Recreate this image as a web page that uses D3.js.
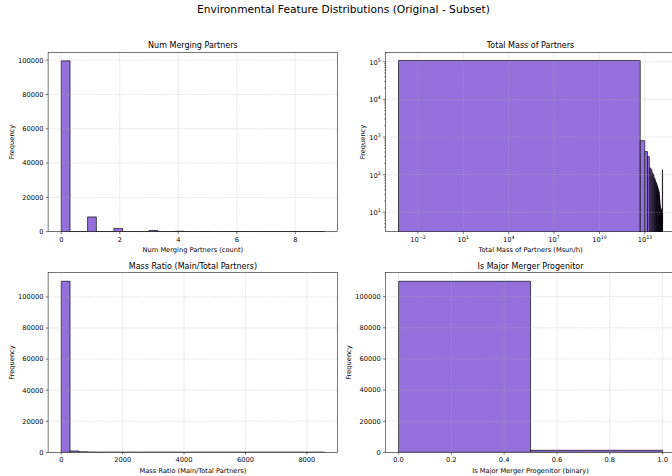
<!DOCTYPE html>
<html>
<head>
<meta charset="utf-8">
<script src="https://cdn.jsdelivr.net/npm/d3@7"></script>
<style>
  html, body { margin: 0; padding: 0; background: #fff; }
  svg { display: block; font-family: "DejaVu Sans", sans-serif; }
</style>
</head>
<body>
<svg id="fig" width="672" height="476"></svg>
<script>
// ---- Num Merging Partners: counts per integer value, binned into 30 bins ----
const partnerValues = [0, 1, 2, 3, 4, 5, 6, 7, 8, 9];
const partnerCounts = [99600, 8600, 1900, 750, 260, 90, 35, 14, 6, 3];
const partnerTicksX = [0, 2, 4, 6, 8];

// ---- Total Mass of Partners: 30 linear bins between min and max, log axes ----
const massRange = [5.2e-4, 1.48e14];
const massCounts = [107500, 800, 410, 300, 150, 135, 110, 100, 82, 74, 66, 60, 55, 50, 46, 42, 38, 34, 28, 22,
                    16, 14, 13, 12, 12, 11, 11, 10, 10, 135];
const massTickExps = [-2, 1, 4, 7, 10, 13];
const massFreqTickExps = [1, 2, 3, 4, 5];
const massFreqLimits = [3.05, 1.78e5];

// ---- Mass Ratio (Main/Total Partners): 30 linear bins ----
const ratioRange = [0, 8576];
const ratioCounts = [110100, 840, 300, 110, 45, 20, 10, 6, 4, 3, 2, 2, 1, 1, 1, 0, 1, 0, 0, 1,
                     0, 0, 0, 1, 0, 0, 0, 0, 0, 1];
const ratioTicksX = [0, 2000, 4000, 6000, 8000];

// ---- Is Major Merger Progenitor: 2 bins over [0, 1] ----
const majorRange = [0, 1];
const majorCounts = [109950, 1300];
const majorTicksX = [0, 0.2, 0.4, 0.6, 0.8, 1.0];

const freqTicks = [0, 20000, 40000, 60000, 80000, 100000];

// ---- styling ----
const BAR_FILL = "#9370DB";
const FONT_TICK = 6.67, FONT_TITLE = 8, FONT_SUPTITLE = 10.67;
const TICK_LEN = 2.33, TICK_PAD = 2.33, LABEL_PAD = 2.67;
const LW = 0.53;

const svg = d3.select("#fig");

svg.append("text")
  .attr("x", 343.4).attr("y", 13.3)
  .attr("text-anchor", "middle")
  .attr("font-size", FONT_SUPTITLE)
  .text("Environmental Feature Distributions (Original - Subset)");

// Build equal-width bins from a range and a list of counts
function linearBins(range, counts) {
  const n = counts.length, w = (range[1] - range[0]) / n;
  return counts.map((c, i) => ({ x0: range[0] + i * w, x1: range[0] + (i + 1) * w, count: c }));
}

function paddedLinear(lo, hi) {
  const m = 0.05 * (hi - lo);
  return [lo - m, hi + m];
}
function paddedLog(lo, hi) {
  const a = Math.log10(lo), b = Math.log10(hi), m = 0.05 * (b - a);
  return [Math.pow(10, a - m), Math.pow(10, b + m)];
}

function supLabel(sel, exp) {
  sel.append("tspan").text("10");
  sel.append("tspan").attr("font-size", 4.7).attr("dy", -3)
    .text(exp < 0 ? "\u2212" + Math.abs(exp) : String(exp));
}

let clipId = 0;
function drawPanel(cfg) {
  const { x0, x1, y0, y1 } = cfg.box;
  const g = svg.append("g");
  const x = (cfg.xLog ? d3.scaleLog() : d3.scaleLinear()).domain(cfg.xDomain).range([x0, x1]);
  const y = (cfg.yLog ? d3.scaleLog() : d3.scaleLinear()).domain(cfg.yDomain).range([y1, y0]);

  const id = "clip" + (clipId++);
  g.append("clipPath").attr("id", id)
    .append("rect").attr("x", x0).attr("y", y0).attr("width", x1 - x0).attr("height", y1 - y0);

  // bars (drawn as paths so zero-height bins still show their edge)
  g.append("g").attr("clip-path", `url(#${id})`)
    .selectAll("path").data(cfg.bins.filter(b => !cfg.yLog || b.count > 0)).join("path")
    .attr("d", b => {
      const xl = x(b.x0), xr = x(b.x1);
      const yb = cfg.yLog ? y1 + 3 : y(0), yt = y(b.count);
      return `M${xl},${yb}V${yt}H${xr}V${yb}Z`;
    })
    .attr("fill", BAR_FILL)
    .attr("stroke", "#000")
    .attr("stroke-width", 0.67);

  // dashed grid above the bars
  const grid = g.append("g")
    .attr("stroke", "#b0b0b0").attr("stroke-opacity", 0.6)
    .attr("stroke-width", LW).attr("stroke-dasharray", "1.97,0.85");
  grid.selectAll(".gx").data(cfg.xTicks).join("line")
    .attr("x1", d => x(d)).attr("x2", d => x(d)).attr("y1", y0).attr("y2", y1);
  grid.selectAll(".gy").data(cfg.yTicks).join("line")
    .attr("x1", x0).attr("x2", x1).attr("y1", d => y(d)).attr("y2", d => y(d));

  // spines
  g.append("rect").attr("x", x0).attr("y", y0).attr("width", x1 - x0).attr("height", y1 - y0)
    .attr("fill", "none").attr("stroke", "#000").attr("stroke-width", LW);

  // tick marks
  const ticks = g.append("g").attr("stroke", "#000").attr("stroke-width", LW);
  ticks.selectAll(".tx").data(cfg.xTicks).join("line")
    .attr("x1", d => x(d)).attr("x2", d => x(d)).attr("y1", y1).attr("y2", y1 + TICK_LEN);
  ticks.selectAll(".ty").data(cfg.yTicks).join("line")
    .attr("x1", x0 - TICK_LEN).attr("x2", x0).attr("y1", d => y(d)).attr("y2", d => y(d));
  if (cfg.yLog) {
    const minor = [];
    const [lo, hi] = y.domain();
    for (let e = Math.floor(Math.log10(lo)); e <= Math.ceil(Math.log10(hi)); e++) {
      for (let k = 2; k <= 9; k++) {
        const v = k * Math.pow(10, e);
        if (v >= lo && v <= hi) minor.push(v);
      }
    }
    ticks.selectAll(".tm").data(minor).join("line")
      .attr("stroke-width", 0.4)
      .attr("x1", x0 - 1.33).attr("x2", x0).attr("y1", d => y(d)).attr("y2", d => y(d));
  }

  // tick labels
  const xl = g.append("g").attr("font-size", FONT_TICK).attr("text-anchor", "middle");
  xl.selectAll("text").data(cfg.xTicks).join("text")
    .attr("x", d => x(d)).attr("y", y1 + TICK_LEN + TICK_PAD + 5.3)
    .each(function (d) {
      const t = d3.select(this);
      if (cfg.xLog) supLabel(t, Math.round(Math.log10(d)));
      else t.text(cfg.xFormat(d));
    });

  const yl = g.append("g").attr("font-size", FONT_TICK).attr("text-anchor", "end");
  const yLabels = yl.selectAll("text").data(cfg.yTicks).join("text")
    .attr("x", x0 - TICK_LEN - TICK_PAD).attr("y", d => y(d) + (cfg.yLog ? 2.9 : 2.4))
    .each(function (d) {
      const t = d3.select(this);
      if (cfg.yLog) supLabel(t, Math.round(Math.log10(d)));
      else t.text(d3.format("d")(d));
    });
  let maxW = 0;
  yLabels.each(function () { maxW = Math.max(maxW, this.getComputedTextLength()); });

  // titles and axis labels
  g.append("text").attr("x", (x0 + x1) / 2).attr("y", y0 - 4)
    .attr("text-anchor", "middle").attr("font-size", FONT_TITLE).text(cfg.title);
  g.append("text").attr("x", (x0 + x1) / 2).attr("y", y1 + 20.3)
    .attr("text-anchor", "middle").attr("font-size", FONT_TICK).text(cfg.xLabel);
  const lx = x0 - TICK_LEN - TICK_PAD - maxW - LABEL_PAD - 1.6;
  g.append("text")
    .attr("transform", `translate(${lx},${(y0 + y1) / 2}) rotate(-90)`)
    .attr("text-anchor", "middle").attr("font-size", FONT_TICK).text("Frequency");
}

// ---- Num Merging Partners ----
(function () {
  const nb = 30, lo = d3.min(partnerValues), hi = d3.max(partnerValues), w = (hi - lo) / nb;
  const counts = new Array(nb).fill(0);
  partnerValues.forEach((v, i) => {
    const k = Math.min(nb - 1, Math.floor((v - lo) / w + 1e-9));
    counts[k] += partnerCounts[i];
  });
  const bins = linearBins([lo, hi], counts);
  drawPanel({
    box: { x0: 48.1, x1: 337.7, y0: 52.3, y1: 231.7 },
    bins, xDomain: paddedLinear(lo, hi), yDomain: [0, 1.05 * d3.max(counts)],
    xTicks: partnerTicksX, yTicks: freqTicks, xFormat: d3.format("d"),
    title: "Num Merging Partners", xLabel: "Num Merging Partners (count)"
  });
})();

// ---- Total Mass of Partners ----
drawPanel({
  box: { x0: 385.3, x1: 675.8, y0: 52.3, y1: 231.7 },
  bins: linearBins(massRange, massCounts),
  xLog: true, yLog: true,
  xDomain: paddedLog(massRange[0], massRange[1]), yDomain: massFreqLimits,
  xTicks: massTickExps.map(e => Math.pow(10, e)),
  yTicks: massFreqTickExps.map(e => Math.pow(10, e)),
  title: "Total Mass of Partners", xLabel: "Total Mass of Partners (Msun/h)"
});

// ---- Mass Ratio ----
drawPanel({
  box: { x0: 48.1, x1: 337.7, y0: 272.7, y1: 452.3 },
  bins: linearBins(ratioRange, ratioCounts),
  xDomain: paddedLinear(ratioRange[0], ratioRange[1]), yDomain: [0, 1.05 * d3.max(ratioCounts)],
  xTicks: ratioTicksX, yTicks: freqTicks, xFormat: d3.format("d"),
  title: "Mass Ratio (Main/Total Partners)", xLabel: "Mass Ratio (Main/Total Partners)"
});

// ---- Is Major Merger Progenitor ----
drawPanel({
  box: { x0: 385.3, x1: 675.8, y0: 272.7, y1: 452.3 },
  bins: linearBins(majorRange, majorCounts),
  xDomain: paddedLinear(majorRange[0], majorRange[1]), yDomain: [0, 1.05 * d3.max(majorCounts)],
  xTicks: majorTicksX, yTicks: freqTicks, xFormat: d3.format(".1f"),
  title: "Is Major Merger Progenitor", xLabel: "Is Major Merger Progenitor (binary)"
});
</script>
</body>
</html>
